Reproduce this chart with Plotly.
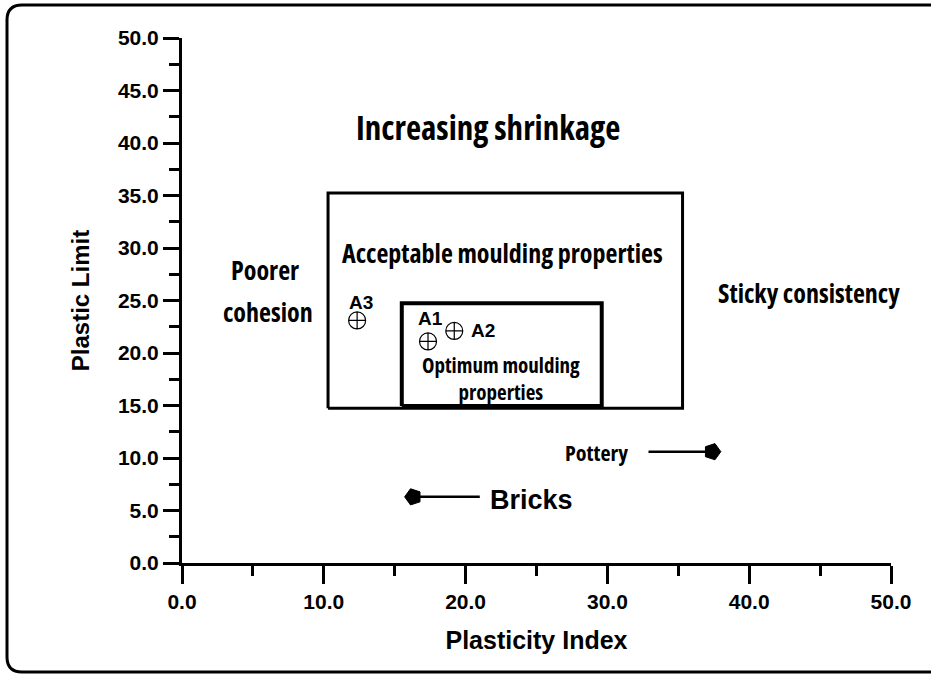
import plotly.graph_objects as go

# ---- data ----
acceptable_x = [10.3, 35.3, 35.3, 10.3, 10.3]
acceptable_y = [14.75, 14.75, 35.25, 35.25, 14.75]
optimum_x = [15.5, 29.6, 29.6, 15.5, 15.5]
optimum_y = [14.95, 14.95, 24.75, 24.75, 14.95]

sample_names = ["A1", "A2", "A3"]
sample_pi = [17.35, 19.2, 12.35]
sample_pl = [21.1, 22.1, 23.1]

pottery_x = [32.9, 37.4]
pottery_y = [10.6, 10.6]
bricks_x = [21.0, 16.3]
bricks_y = [6.3, 6.3]

x_ticks = [0, 10, 20, 30, 40, 50]
y_ticks = [0, 5, 10, 15, 20, 25, 30, 35, 40, 45, 50]

COND = "Open Sans"
ARIAL = "Liberation Sans, Arial, sans-serif"

W, H = 931, 675
ML, MR, MT, MB = 182, 40, 38, 112
PW, PH = W - ML - MR, H - MT - MB


def px(x):
    return (x - ML) / PW


def py(y):
    return (H - MB - y) / PH


fig = go.Figure()

fig.add_trace(go.Scatter(x=acceptable_x, y=acceptable_y, mode="lines",
                         line=dict(color="black", width=3), hoverinfo="skip", showlegend=False))
fig.add_trace(go.Scatter(x=optimum_x, y=optimum_y, mode="lines",
                         line=dict(color="black", width=4), hoverinfo="skip", showlegend=False))
fig.add_trace(go.Scatter(x=sample_pi, y=sample_pl, mode="markers",
                         marker=dict(symbol="circle-cross-open", size=17, color="black",
                                     line=dict(width=1.2, color="black")),
                         text=sample_names, showlegend=False))
# arrows
fig.add_trace(go.Scatter(x=pottery_x, y=pottery_y, mode="lines+markers",
                         line=dict(color="black", width=2.5),
                         marker=dict(symbol="pentagon", angle=90, size=[0, 17], color="black",
                                     opacity=1, line=dict(width=1, color="black")),
                         hoverinfo="skip", showlegend=False))
fig.add_trace(go.Scatter(x=bricks_x, y=bricks_y, mode="lines+markers",
                         line=dict(color="black", width=2.5),
                         marker=dict(symbol="pentagon", angle=-90, size=[0, 17], color="black",
                                     opacity=1, line=dict(width=1, color="black")),
                         hoverinfo="skip", showlegend=False))


def note(x, y, text, size, cond=True, xanchor="center"):
    if cond:
        txt = '<span style="font-stretch:condensed"><b>%s</b></span>' % text
        fam = COND
    else:
        txt = "<b>%s</b>" % text
        fam = ARIAL
    fig.add_annotation(x=x, y=y, xref="x", yref="y", text=txt, showarrow=False,
                       xanchor=xanchor, yanchor="middle",
                       font=dict(family=fam, size=size, color="black"))


note(21.6, 41.5, "Increasing shrinkage", 33)
note(22.6, 29.5, "Acceptable moulding properties", 26)
note(5.85, 27.9, "Poorer", 26)
note(6.05, 23.9, "cohesion", 26)
note(44.2, 25.7, "Sticky consistency", 26)
note(22.5, 17.6, "Optimum moulding<br>properties", 21)
note(31.6, 10.6, "Pottery", 22, xanchor="right")
note(21.6, 6.0, "Bricks", 27, cond=False, xanchor="left")
note(12.6, 24.8, "A3", 19, cond=False)
note(17.5, 23.3, "A1", 19, cond=False)
note(21.2, 22.1, "A2", 19, cond=False)

# rounded outer frame (extends past the right edge)
L, T, B, R, r = 7, 5, 672, 945, 15
frame = (f"M {px(R)} {py(T)} L {px(L + r)} {py(T)} Q {px(L)} {py(T)} {px(L)} {py(T + r)} "
         f"L {px(L)} {py(B - r)} Q {px(L)} {py(B)} {px(L + r)} {py(B)} L {px(R)} {py(B)}")
fig.add_shape(type="path", xref="paper", yref="paper", path=frame,
              line=dict(color="black", width=3))

tickfont = dict(family=ARIAL, size=21, color="black", weight="bold")
axis_common = dict(showgrid=False, zeroline=False, showline=True, linecolor="black", linewidth=3,
                   ticks="outside", tickwidth=3, tickcolor="black",
                   tickformat=".1f", tickfont=tickfont, ticklabelstandoff=0)

fig.update_xaxes(range=[0, 50], tickvals=x_ticks, ticklen=18,
                 minor=dict(dtick=5, ticklen=10, tickwidth=3, tickcolor="black", ticks="outside"),
                 title=dict(text="<b>Plasticity Index</b>", standoff=20,
                            font=dict(family=ARIAL, size=25, color="black")),
                 **axis_common)
fig.update_yaxes(range=[0, 50], tickvals=y_ticks, ticklen=16,
                 minor=dict(dtick=2.5, ticklen=10, tickwidth=3, tickcolor="black", ticks="outside"),
                 title=dict(text="<b>Plastic Limit</b>", standoff=22,
                            font=dict(family=ARIAL, size=24, color="black")),
                 **axis_common)

fig.update_layout(width=W, height=H, margin=dict(l=ML, r=MR, t=MT, b=MB, autoexpand=False),
                  plot_bgcolor="white", paper_bgcolor="white", showlegend=False)

fig.write_html("out.html", config={"displayModeBar": False},
               post_script="document.body.style.margin='0';document.body.style.overflow='hidden';")
